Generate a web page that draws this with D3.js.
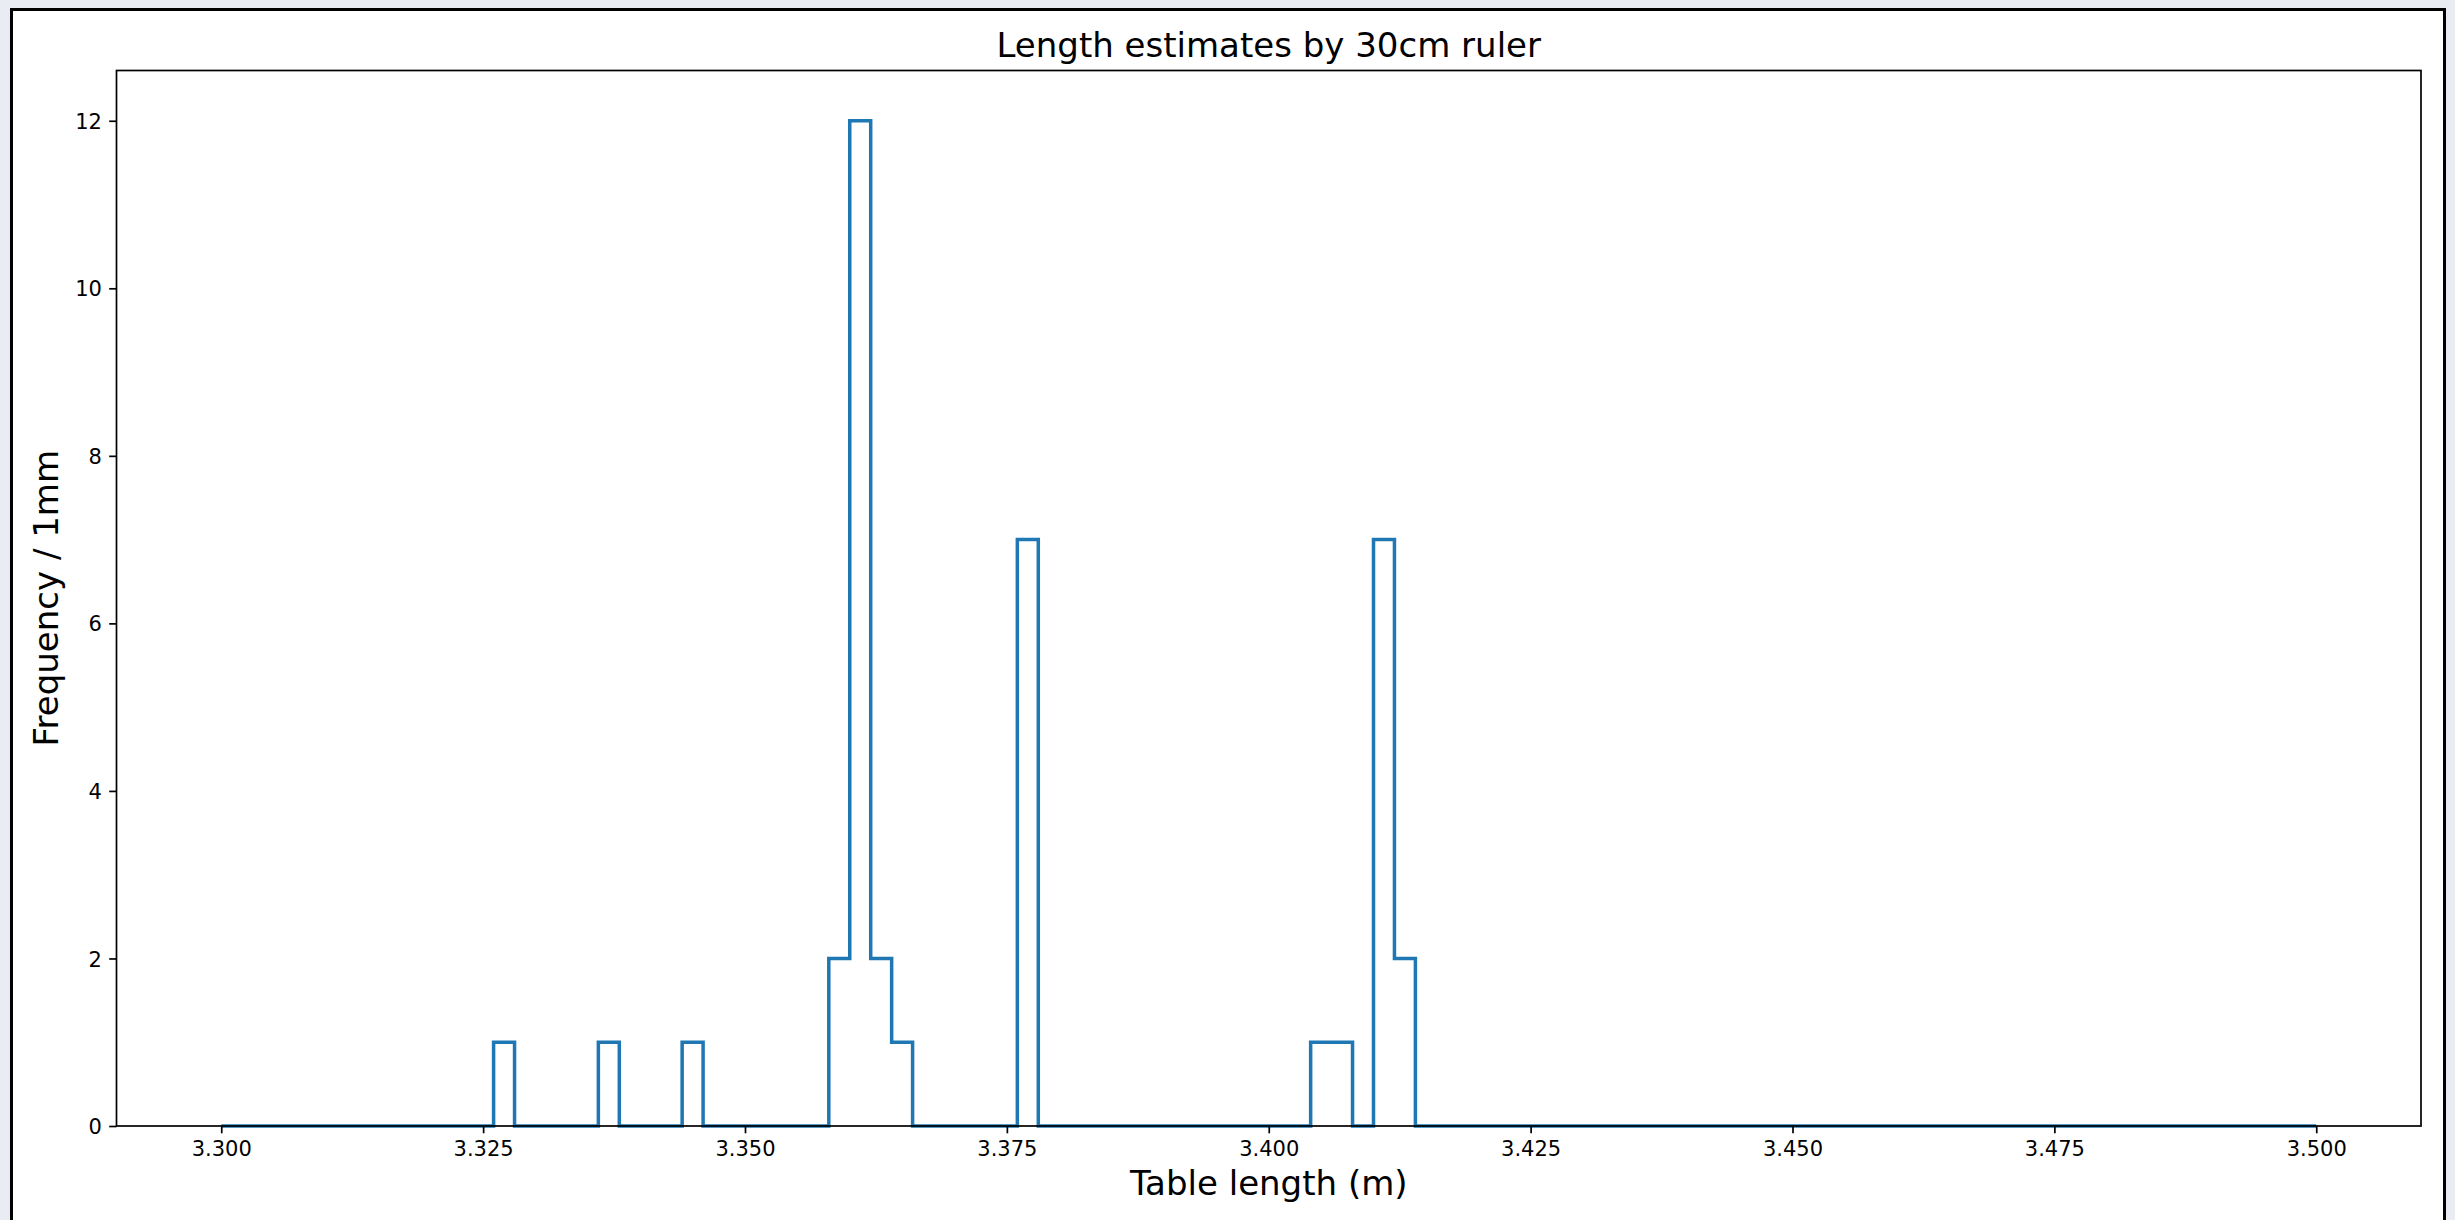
<!DOCTYPE html>
<html>
<head>
<meta charset="utf-8">
<script src="https://cdn.jsdelivr.net/npm/d3@7"></script>
<style>
  html, body { margin: 0; padding: 0; background: #e9ecf2; }
  svg { display: block; }
  text { font-family: "DejaVu Sans", sans-serif; fill: #000; }
</style>
</head>
<body>
<svg id="chart" width="2455" height="1220"></svg>
<script>
// Histogram of table-length estimates, 2 mm bins from 3.300 m to 3.500 m
const histRange = [3.300, 3.500];
const binWidth = 0.002;
// left edges of the occupied bins and their counts
const binLefts = [3.326, 3.336, 3.344, 3.358, 3.360, 3.362, 3.364, 3.376, 3.404, 3.406, 3.410, 3.412];
const binCounts = [1, 1, 1, 2, 12, 2, 1, 7, 1, 1, 7, 2];
const xTicks = [3.300, 3.325, 3.350, 3.375, 3.400, 3.425, 3.450, 3.475, 3.500];
const yTicks = [0, 2, 4, 6, 8, 10, 12];
const titleText = "Length estimates by 30cm ruler";
const xLabelText = "Table length (m)";
const yLabelText = "Frequency / 1mm";

const W = 2455, H = 1220;
const plot = { left: 116.5, right: 2421, top: 70.5, bottom: 1126 };

const svg = d3.select("#chart");

// figure panel with its black frame
svg.append("rect")
  .attr("x", 11.5).attr("y", 9.5)
  .attr("width", 2433).attr("height", H + 20)
  .attr("fill", "#ffffff")
  .attr("stroke", "#000").attr("stroke-width", 3);

const nBins = Math.round((histRange[1] - histRange[0]) / binWidth);
const counts = new Array(nBins).fill(0);
binLefts.forEach((b, i) => {
  const idx = Math.round((b - histRange[0]) / binWidth);
  counts[idx] = binCounts[i];
});
const edges = d3.range(nBins + 1).map(i => histRange[0] + i * binWidth);

const span = histRange[1] - histRange[0];
const x = d3.scaleLinear()
  .domain([histRange[0] - span * 0.05, histRange[1] + span * 0.05])
  .range([plot.left, plot.right]);
const yMax = d3.max(counts) * 1.05;
const y = d3.scaleLinear().domain([0, yMax]).range([plot.bottom, plot.top]);

// step outline, as drawn by an unfilled histogram
const pts = [[edges[0], 0]];
counts.forEach((c, i) => {
  pts.push([edges[i], c]);
  pts.push([edges[i + 1], c]);
});
pts.push([edges[nBins], 0]);

const g = svg.append("g");

g.append("path")
  .datum(pts)
  .attr("fill", "none")
  .attr("stroke", "#1f77b4")
  .attr("stroke-width", 3.5)
  .attr("stroke-linejoin", "miter")
  .attr("stroke-linecap", "butt")
  .attr("d", d3.line().x(d => x(d[0])).y(d => y(d[1])));

// axes frame
g.append("rect")
  .attr("x", plot.left).attr("y", plot.top)
  .attr("width", plot.right - plot.left).attr("height", plot.bottom - plot.top)
  .attr("fill", "none").attr("stroke", "#000").attr("stroke-width", 1.7);

const xAxis = d3.axisBottom(x).tickValues(xTicks).tickFormat(d3.format(".3f"))
  .tickSize(7.3).tickPadding(7.3);
const gx = g.append("g").attr("transform", `translate(0,${plot.bottom})`).call(xAxis);
gx.select(".domain").remove();
gx.selectAll(".tick line").attr("stroke", "#000").attr("stroke-width", 1.7);
gx.selectAll(".tick text").attr("font-size", 21).attr("font-family", "DejaVu Sans")
  .attr("dy", "0.72em").attr("y", 14.6);

const yAxis = d3.axisLeft(y).tickValues(yTicks).tickFormat(d3.format("d"))
  .tickSize(7.3).tickPadding(7.3);
const gy = g.append("g").attr("transform", `translate(${plot.left},0)`).call(yAxis);
gy.select(".domain").remove();
gy.selectAll(".tick line").attr("stroke", "#000").attr("stroke-width", 1.7);
gy.selectAll(".tick text").attr("font-size", 21).attr("font-family", "DejaVu Sans")
  .attr("dy", "0.36em");

// title and axis labels
svg.append("text")
  .attr("x", (plot.left + plot.right) / 2).attr("y", 57)
  .attr("text-anchor", "middle").attr("font-size", 34)
  .text(titleText);

svg.append("text")
  .attr("x", (plot.left + plot.right) / 2).attr("y", 1195)
  .attr("text-anchor", "middle").attr("font-size", 34)
  .text(xLabelText);

svg.append("text")
  .attr("transform", `translate(58,${(plot.top + plot.bottom) / 2}) rotate(-90)`)
  .attr("text-anchor", "middle").attr("font-size", 34)
  .text(yLabelText);
</script>
</body>
</html>
